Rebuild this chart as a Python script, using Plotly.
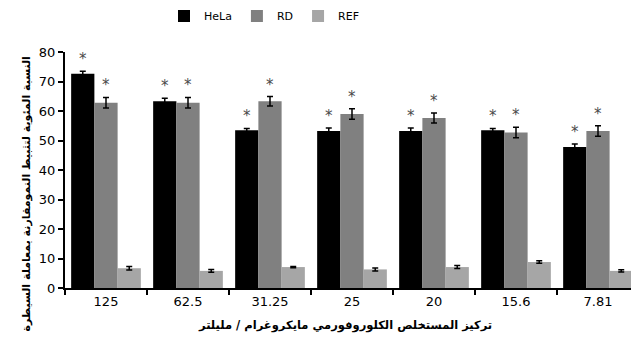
import plotly.graph_objects as go

categories = ["125", "62.5", "31.25", "25", "20", "15.6", "7.81"]
hela = [72.6, 63.3, 53.5, 53.2, 53.2, 53.5, 47.8]
hela_err = [0.9, 1.0, 0.6, 1.0, 1.0, 0.6, 1.0]
rd = [62.8, 62.8, 63.3, 59.0, 57.6, 52.7, 53.2]
rd_err = [1.8, 1.8, 1.6, 1.8, 1.7, 1.8, 1.8]
ref = [6.7, 5.8, 7.1, 6.3, 7.1, 8.8, 5.8]
ref_err = [0.6, 0.5, 0.2, 0.5, 0.5, 0.4, 0.4]
hela_sig = [True] * 7
rd_sig = [True] * 7

y_title = "النسبة المئوية لتثبيط النمومقارنة بمعاملة السيطرة"
x_title = "تركيز المستخلص الكلوروفورمي مايكروغرام / مليلتر"

font_family = "DejaVu Sans, Verdana, sans-serif"

# the page body has an 8px margin, so the figure is 8px smaller than the window
W, H = 631, 337
L, R, T, B = 57, 0, 44, 57
PW, PH = W - L - R, H - T - B

fig = go.Figure()
series = [("HeLa", hela, hela_err, "#000000"),
          ("RD", rd, rd_err, "#808080"),
          ("REF", ref, ref_err, "#a6a6a6")]
for name, vals, errs, col in series:
    fig.add_trace(go.Bar(
        name=name, x=categories, y=vals, marker_color=col,
        marker_line_width=0,
        error_y=dict(type="data", array=errs, color="#000000", thickness=1.5, width=3),
    ))

# significance asterisks (x given as category index)
bar_px = PW / len(categories) * 0.85 / 3
for i, c in enumerate(categories):
    for sig, vals, errs, shift in [(hela_sig, hela, hela_err, -bar_px), (rd_sig, rd, rd_err, 0)]:
        if sig[i]:
            fig.add_annotation(x=i, y=vals[i] + errs[i], xref="x", yref="y",
                               text="*", showarrow=False, yanchor="bottom",
                               xshift=shift, yshift=1,
                               font=dict(size=15, color="#4a4a4a", family=font_family))

fig.add_annotation(x=(9 - L) / PW, y=(H - B - 186) / PH, xref="paper", yref="paper",
                   text="<b>" + y_title + "</b>",
                   textangle=-90, showarrow=False,
                   font=dict(size=11, color="#000000", family=font_family))
fig.add_annotation(x=(337 - L) / PW, y=(H - B - 317) / PH, xref="paper", yref="paper",
                   text="<b>" + x_title + "</b>",
                   showarrow=False, yanchor="middle",
                   font=dict(size=11.5, color="#000000", family=font_family))

fig.update_layout(
    width=W, height=H,
    margin=dict(l=L, r=R, t=T, b=B, autoexpand=False),
    paper_bgcolor="white", plot_bgcolor="white",
    barmode="group", bargap=0.15, bargroupgap=0,
    font=dict(family=font_family, size=13, color="#000000"),
    showlegend=True,
    legend=dict(orientation="h", x=(256 - L) / PW, xanchor="center",
                y=(H - B - 8) / PH, yanchor="middle",
                font=dict(size=11), itemwidth=30, tracegroupgap=0),
    xaxis=dict(type="category", range=[-0.5, len(categories) - 0.5],
               showline=True, linecolor="#000000", linewidth=2, ticks="outside",
               tickson="boundaries", ticklen=5, tickwidth=2, tickcolor="#000000",
               showgrid=False),
    yaxis=dict(range=[0, 80], dtick=10, showline=True, linecolor="#000000", linewidth=2,
               ticks="outside", ticklen=5, tickwidth=2, tickcolor="#000000",
               showgrid=False, zeroline=False),
)

fig.write_html("out.html")
